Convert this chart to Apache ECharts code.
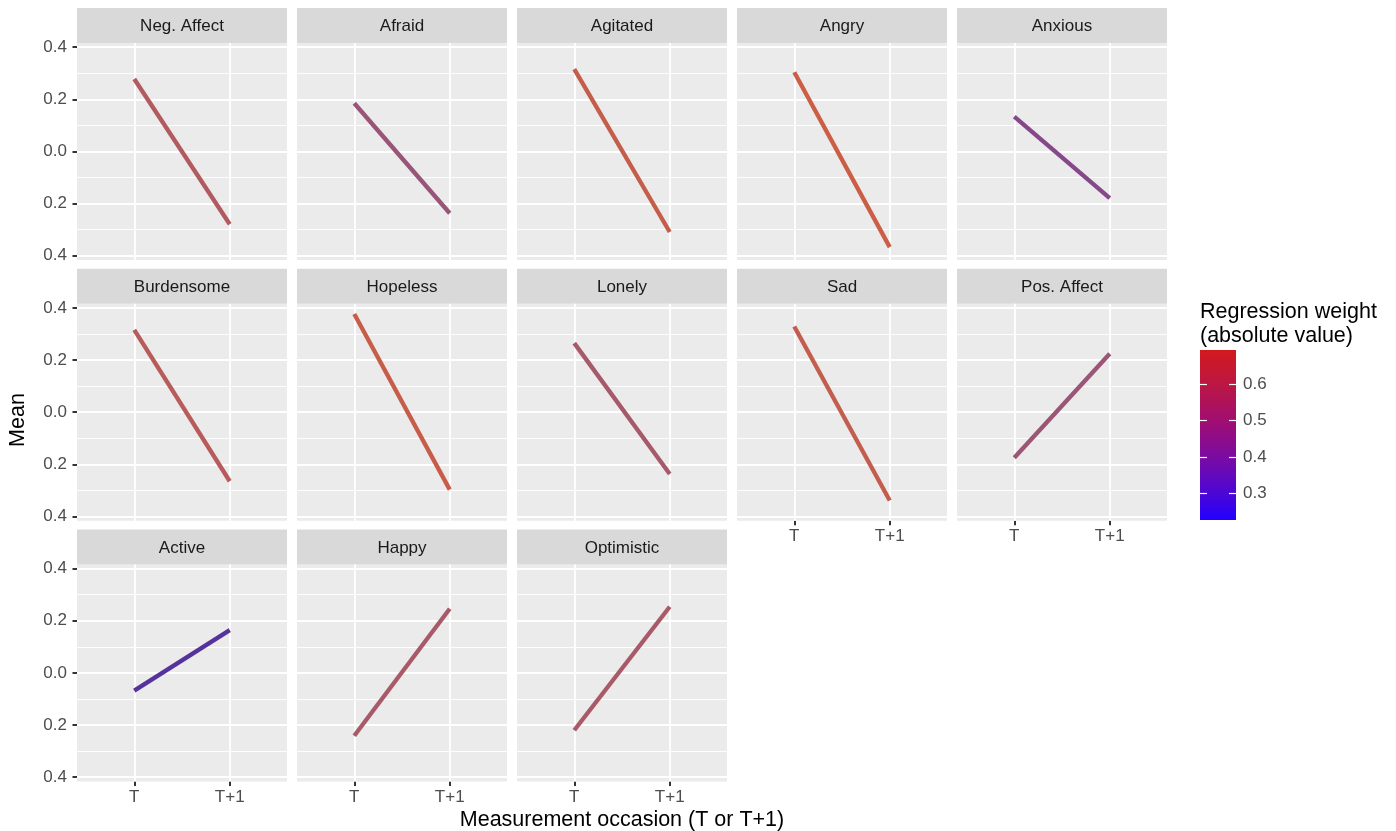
<!DOCTYPE html>
<html>
<head>
<meta charset="utf-8">
<script src="https://cdn.jsdelivr.net/npm/echarts@6/dist/echarts.min.js"></script>
<style>
html, body { margin: 0; padding: 0; background: #fff; }
#chart { width: 1396px; height: 831px; }
</style>
</head>
<body>
<div id="chart"></div>
<script>
// facet names, in facet order
var panels = ['Neg. Affect', 'Afraid', 'Agitated', 'Angry', 'Anxious',
              'Burdensome', 'Hopeless', 'Lonely', 'Sad', 'Pos. Affect',
              'Active', 'Happy', 'Optimistic'];
// mean at T and at T+1
var meanT  = [0.278, 0.185, 0.316, 0.304, 0.134,
              0.316, 0.377, 0.265, 0.329, -0.175,
              -0.068, -0.241, -0.220];
var meanT1 = [-0.279, -0.237, -0.309, -0.367, -0.179,
              -0.265, -0.297, -0.237, -0.339, 0.224,
              0.164, 0.246, 0.254];
// regression weight (absolute value)
var weights = [0.56, 0.47, 0.65, 0.68, 0.41,
               0.58, 0.66, 0.52, 0.64, 0.48,
               0.29, 0.53, 0.53];
var occasions = ['T', 'T+1'];
var yTicks = [-0.4, -0.2, 0, 0.2, 0.4];
var yMinor = [-0.3, -0.1, 0.1, 0.3];
var weightTicks = [0.3, 0.4, 0.5, 0.6];
var weightRange = [0.2264, 0.6945];

var FONT = '"Liberation Sans", Arial, Helvetica, sans-serif';
var PW = 210, PH = 217, LEFT0 = 77, COLSTEP = 220, TOP0 = 43, ROWSTEP = 260.7, STRIP = 35;
var YLIM = 0.4163;

// muted colours the lines are drawn with
var lineStops = [[0.2264, '#4A2CA6'], [0.30, '#58339A'], [0.41, '#85498A'], [0.47, '#985578'],
                 [0.53, '#A95A68'], [0.58, '#B75C5A'], [0.6945, '#CE5E42']];
function hexRgb(h) { return [parseInt(h.substr(1, 2), 16), parseInt(h.substr(3, 2), 16), parseInt(h.substr(5, 2), 16)]; }
function lineColor(w) {
    for (var k = 0; k < lineStops.length - 1; k++) {
        var a = lineStops[k], b = lineStops[k + 1];
        if (w <= b[0] || k == lineStops.length - 2) {
            var t = Math.max(0, Math.min(1, (w - a[0]) / (b[0] - a[0])));
            var ca = hexRgb(a[1]), cb = hexRgb(b[1]);
            return 'rgb(' + ca.map(function (c, j) { return Math.round(c + (cb[j] - c) * t); }).join(',') + ')';
        }
    }
}

var grids = [], xAxes = [], yAxes = [], series = [], graphics = [];

panels.forEach(function (name, i) {
    var col = i % 5, row = Math.floor(i / 5);
    var left = LEFT0 + col * COLSTEP, top = TOP0 + row * ROWSTEP;
    var showX = i + 5 >= panels.length;
    var showY = col == 0;

    grids.push({
        left: left, top: top, width: PW, height: PH,
        show: true, backgroundColor: '#EBEBEB', borderWidth: 0,
        containLabel: false, outerBoundsMode: 'none'
    });
    xAxes.push({
        gridIndex: i, type: 'value', min: 0.4, max: 2.6, position: 'bottom',
        axisLine: { show: false, onZero: false }, splitLine: { show: false },
        axisTick: { show: showX, length: 4.5, customValues: [1, 2], lineStyle: { color: '#333', width: 2 } },
        axisLabel: {
            show: showX, customValues: [1, 2], margin: 7,
            color: '#4D4D4D', fontSize: 17, fontFamily: FONT,
            formatter: function (v) { return occasions[Math.round(v) - 1]; }
        }
    });
    yAxes.push({
        gridIndex: i, type: 'value', min: -YLIM, max: YLIM, position: 'left',
        axisLine: { show: false, onZero: false }, splitLine: { show: false },
        axisTick: { show: showY, length: 4.5, customValues: yTicks, lineStyle: { color: '#333', width: 2 } },
        axisLabel: {
            show: showY, customValues: yTicks, margin: 10,
            color: '#4D4D4D', fontSize: 17, fontFamily: FONT,
            formatter: function (v) { return Math.abs(v).toFixed(1); }
        }
    });

    var gridLines = [];
    yMinor.forEach(function (v) { gridLines.push({ yAxis: v, lineStyle: { color: '#fff', width: 0.9, type: 'solid' } }); });
    yTicks.forEach(function (v) { gridLines.push({ yAxis: v, lineStyle: { color: '#fff', width: 1.8, type: 'solid' } }); });
    [1, 2].forEach(function (v) { gridLines.push({ xAxis: v, lineStyle: { color: '#fff', width: 1.8, type: 'solid' } }); });

    series.push({
        type: 'line', xAxisIndex: i, yAxisIndex: i,
        data: [[1, meanT[i]], [2, meanT1[i]]],
        symbol: 'none', silent: true, z: 10,
        lineStyle: { width: 4.3, color: lineColor(weights[i]), cap: 'butt' },
        markLine: {
            silent: true, symbol: 'none', animation: false,
            label: { show: false }, emphasis: { disabled: true },
            data: gridLines
        }
    });

    // strip
    graphics.push({
        type: 'rect', left: left, top: top - STRIP,
        shape: { width: PW, height: STRIP }, style: { fill: '#D9D9D9' }, silent: true
    });
    graphics.push({
        type: 'text', x: left + PW / 2, y: top - STRIP / 2 + 1,
        style: { text: name, fill: '#1A1A1A', font: '17px ' + FONT, align: 'center', verticalAlign: 'middle' },
        silent: true
    });
});

// colour bar
var cb = panels.length;
grids.push({
    left: 1200, top: 350, width: 36, height: 170, show: true, borderWidth: 0,
    containLabel: false, outerBoundsMode: 'none',
    backgroundColor: {
        type: 'linear', x: 0, y: 0, x2: 0, y2: 1,
        colorStops: [
            { offset: 0, color: '#D21A1E' }, { offset: 0.2, color: '#BC1642' },
            { offset: 0.42, color: '#A00E72' }, { offset: 0.64, color: '#780BA4' },
            { offset: 0.86, color: '#4806DA' }, { offset: 1, color: '#2200FF' }
        ]
    }
});
xAxes.push({ gridIndex: cb, type: 'value', min: 0, max: 1, show: false, axisLine: { onZero: false } });
yAxes.push({
    gridIndex: cb, type: 'value', min: weightRange[0], max: weightRange[1], position: 'right',
    axisLine: { show: false, onZero: false }, splitLine: { show: false },
    axisTick: { show: true, inside: true, length: 7, customValues: weightTicks, lineStyle: { color: '#fff', width: 1.2 } },
    axisLabel: {
        customValues: weightTicks, margin: 7, color: '#4D4D4D', fontSize: 17, fontFamily: FONT,
        formatter: function (v) { return v.toFixed(1); }
    }
});
yAxes.push({
    gridIndex: cb, type: 'value', min: weightRange[0], max: weightRange[1], position: 'left',
    axisLine: { show: false, onZero: false }, splitLine: { show: false }, axisLabel: { show: false },
    axisTick: { show: true, inside: true, length: 7, customValues: weightTicks, lineStyle: { color: '#fff', width: 1.2 } }
});

graphics.push({
    type: 'text', x: 1200, y: 312,
    style: { text: 'Regression weight', fill: '#000', font: '21.5px ' + FONT, align: 'left', verticalAlign: 'middle' }
});
graphics.push({
    type: 'text', x: 1200, y: 336,
    style: { text: '(absolute value)', fill: '#000', font: '21.5px ' + FONT, align: 'left', verticalAlign: 'middle' }
});
graphics.push({
    type: 'text', x: 622, y: 820,
    style: { text: 'Measurement occasion (T or T+1)', fill: '#000', font: '21.5px ' + FONT, align: 'center', verticalAlign: 'middle' }
});
graphics.push({
    type: 'text', x: 18, y: 420, rotation: Math.PI / 2,
    style: { text: 'Mean', fill: '#000', font: '21.5px ' + FONT, align: 'center', verticalAlign: 'middle' }
});

var myChart = echarts.init(document.getElementById('chart'));
myChart.setOption({
    animation: false,
    backgroundColor: '#fff',
    grid: grids,
    xAxis: xAxes,
    yAxis: yAxes,
    series: series,
    graphic: graphics
});
</script>
</body>
</html>
